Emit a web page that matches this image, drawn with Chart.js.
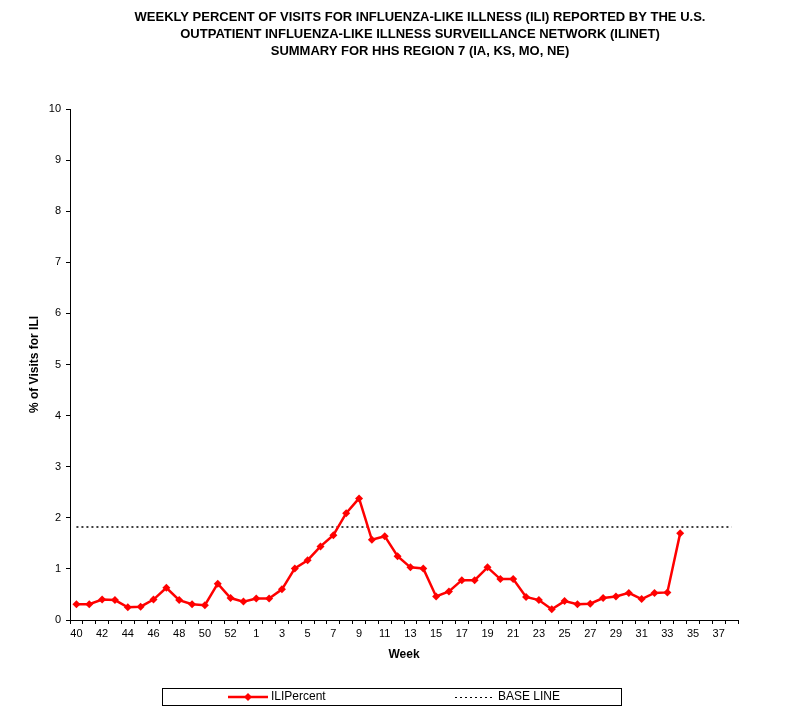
<!DOCTYPE html>
<html>
<head>
<meta charset="utf-8">
<script src="https://cdn.jsdelivr.net/npm/chart.js@4/dist/chart.umd.min.js"></script>
<style>
  html, body { margin: 0; padding: 0; background: #fff; }
  canvas { display: block; }
</style>
</head>
<body>
<canvas id="chart" width="801" height="715"></canvas>
<script>
// weeks of the season, 40..53 then 1..38
var weeks = [40, 41, 42, 43, 44, 45, 46, 47, 48, 49, 50, 51, 52, 53,
  1, 2, 3, 4, 5, 6, 7, 8, 9, 10, 11, 12, 13, 14, 15, 16, 17, 18, 19, 20,
  21, 22, 23, 24, 25, 26, 27, 28, 29, 30, 31, 32, 33, 34, 35, 36, 37, 38];

// % of visits for ILI, weeks 40 through 34
var iliPercent = [0.31, 0.31, 0.40, 0.39, 0.25, 0.26, 0.40, 0.63, 0.39, 0.31,
  0.29, 0.71, 0.43, 0.36, 0.42, 0.42, 0.60, 1.01, 1.17, 1.44, 1.66, 2.09,
  2.38, 1.57, 1.64, 1.25, 1.03, 1.01, 0.46, 0.56, 0.78, 0.78, 1.03, 0.80,
  0.80, 0.45, 0.39, 0.21, 0.37, 0.31, 0.32, 0.43, 0.46, 0.53, 0.41, 0.53,
  0.54, 1.70];

var baseLineValue = 1.82;
var baseLine = weeks.map(function () { return baseLineValue; });

var yTicks = [0, 1, 2, 3, 4, 5, 6, 7, 8, 9, 10];

var titleLines = [
  "WEEKLY PERCENT OF VISITS FOR INFLUENZA-LIKE ILLNESS (ILI) REPORTED BY THE U.S.",
  "OUTPATIENT INFLUENZA-LIKE ILLNESS SURVEILLANCE NETWORK (ILINET)",
  "SUMMARY FOR HHS REGION 7 (IA, KS, MO, NE)"
];

var FONT = "'Liberation Sans', Arial, sans-serif";

// title and boxed legend drawn on the canvas
var decorations = {
  id: "decorations",
  afterDraw: function (chart) {
    var ctx = chart.ctx;
    ctx.save();
    ctx.fillStyle = "#000";
    ctx.font = "bold 13px " + FONT;
    ctx.textAlign = "center";
    ctx.textBaseline = "middle";
    titleLines.forEach(function (t, i) {
      ctx.fillText(t, 420, 17 + i * 17);
    });

    // legend box
    ctx.strokeStyle = "#000";
    ctx.lineWidth = 1;
    ctx.strokeRect(162.5, 688.5, 459, 17);

    var ly = 697;
    ctx.strokeStyle = "#ff0000";
    ctx.lineWidth = 2.5;
    ctx.beginPath();
    ctx.moveTo(228, ly);
    ctx.lineTo(268, ly);
    ctx.stroke();
    ctx.fillStyle = "#ff0000";
    ctx.beginPath();
    ctx.moveTo(248, ly - 4);
    ctx.lineTo(252, ly);
    ctx.lineTo(248, ly + 4);
    ctx.lineTo(244, ly);
    ctx.closePath();
    ctx.fill();

    ctx.strokeStyle = "#000";
    ctx.lineWidth = 1;
    ctx.setLineDash([2, 3]);
    ctx.beginPath();
    ctx.moveTo(455, ly + 0.5);
    ctx.lineTo(494, ly + 0.5);
    ctx.stroke();
    ctx.setLineDash([]);

    ctx.fillStyle = "#000";
    ctx.font = "12px " + FONT;
    ctx.textAlign = "left";
    ctx.fillText("ILIPercent", 271, ly);
    ctx.fillText("BASE LINE", 498, ly);
    ctx.restore();
  }
};

new Chart(document.getElementById("chart"), {
  type: "line",
  data: {
    labels: weeks,
    datasets: [
      {
        label: "ILIPercent",
        data: iliPercent,
        borderColor: "#ff0000",
        backgroundColor: "#ff0000",
        borderWidth: 2.5,
        pointStyle: "rectRot",
        pointRadius: 4,
        pointBorderWidth: 0,
        tension: 0
      },
      {
        label: "BASE LINE",
        data: baseLine,
        borderColor: "#000",
        borderWidth: 1.3,
        borderDash: [2, 3],
        pointRadius: 0,
        tension: 0
      }
    ]
  },
  options: {
    responsive: false,
    animation: false,
    layout: { padding: { left: 0, right: 63, top: 109, bottom: 53 } },
    plugins: {
      legend: { display: false },
      title: { display: false },
      tooltip: { enabled: false }
    },
    scales: {
      x: {
        offset: true,
        grid: {
          offset: true,
          drawOnChartArea: false,
          drawTicks: true,
          tickLength: 4,
          color: "#000"
        },
        border: { color: "#000", width: 1 },
        ticks: {
          autoSkip: false,
          maxRotation: 0,
          color: "#000",
          padding: 3,
          font: { family: FONT, size: 11 },
          callback: function (v, i) { return i % 2 === 0 ? weeks[i] : ""; }
        },
        title: {
          display: true,
          text: "Week",
          color: "#000",
          font: { family: FONT, size: 12, weight: "bold" },
          padding: 0
        },
        afterFit: function (s) { s.height = 42; }
      },
      y: {
        min: 0,
        max: 10,
        afterBuildTicks: function (s) {
          s.ticks = yTicks.map(function (v) { return { value: v }; });
        },
        grid: {
          drawOnChartArea: false,
          tickLength: 4,
          color: "#000"
        },
        border: { color: "#000", width: 1 },
        ticks: {
          color: "#000",
          padding: 5,
          font: { family: FONT, size: 11 }
        },
        title: {
          display: true,
          text: "% of Visits for ILI",
          color: "#000",
          font: { family: FONT, size: 12, weight: "bold" },
          padding: { top: 27 }
        },
        afterFit: function (s) { s.width = 70; }
      }
    }
  },
  plugins: [decorations]
});
</script>
</body>
</html>
